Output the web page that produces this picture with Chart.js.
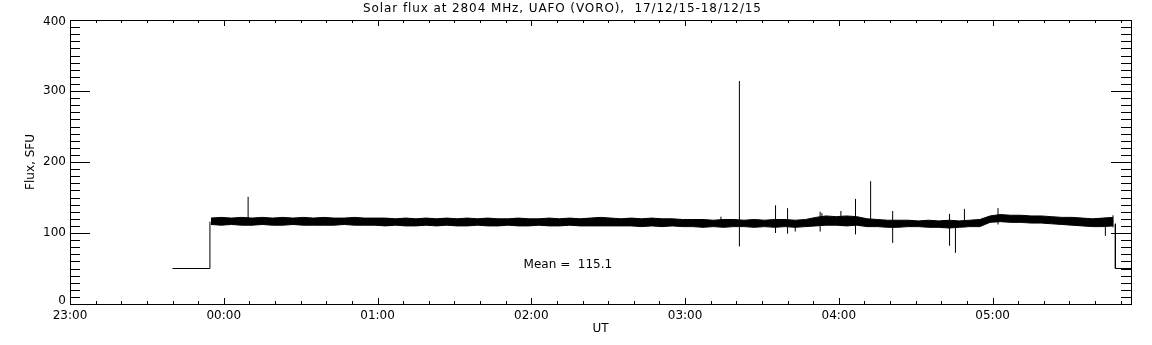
<!DOCTYPE html>
<html>
<head>
<meta charset="utf-8">
<script src="https://cdn.jsdelivr.net/npm/chart.js@4/dist/chart.umd.min.js"></script>
<style>
html, body { margin: 0; padding: 0; background: #fff; }
</style>
</head>
<body>
<canvas id="fluxChart" width="1152" height="345"></canvas>
<script>
// time axis is minutes after 23:00 UT
const titleText = 'Solar flux at 2804 MHz, UAFO (VORO),  17/12/15-18/12/15';
const hourTicks = [0, 60, 120, 180, 240, 300, 360];
const hourLabels = ['23:00', '00:00', '01:00', '02:00', '03:00', '04:00', '05:00'];
const fluxTicks = [0, 100, 200, 300, 400];
const fluxLabels = ['0', '100', '200', '300', '400'];
const meanLabel = 'Mean =  115.1';

// receiver off / calibration level before and after the record
const leadTime = [40, 54.6, 54.6];
const leadFlux = [50, 50, 116];
const tailTime = [407.9, 407.9, 414];
const tailFlux = [113, 50, 50];

// envelope of the noisy flux record
const bandTime = [55, 59, 63, 67, 71, 75, 79, 83, 87, 91, 95, 99, 103, 107, 111, 115, 119,
    123, 127, 131, 135, 139, 143, 147, 151, 155, 159, 163, 167, 171, 175, 179, 183, 187, 191,
    195, 199, 203, 207, 211, 215, 219, 223, 227, 231, 235, 239, 243, 247, 251, 255, 259, 263,
    267, 271, 275, 279, 283, 287, 291, 295, 299, 303, 307, 311, 315, 319, 323, 327, 331, 335,
    339, 343, 347, 351, 355, 359, 363, 367, 371, 375, 379, 383, 387, 391, 395, 399, 403, 407];
const bandHigh = [121, 122, 121, 122, 121, 122, 121, 122, 121, 122, 121, 122, 121, 121, 122, 121, 121,
    121, 120, 121, 120, 121, 120, 121, 120, 121, 120, 121, 120, 120, 121, 120, 120, 121, 120,
    121, 120, 121, 122, 121, 120, 121, 120, 121, 120, 120, 119, 119, 119, 118, 119, 119, 118,
    119, 118, 119, 119, 118, 119, 122, 124, 123, 124, 123, 120, 119, 118, 118, 118, 117, 118,
    117, 118, 117, 118, 119, 124, 126, 125, 125, 124, 124, 123, 122, 122, 121, 120, 121, 122];
const bandLow = [112, 111, 112, 111, 111, 112, 111, 111, 112, 111, 111, 111, 111, 112, 111, 111, 111,
    110, 111, 110, 110, 111, 110, 111, 110, 110, 111, 110, 110, 111, 110, 110, 111, 110, 110,
    111, 110, 110, 110, 110, 110, 110, 109, 110, 109, 110, 109, 109, 108, 109, 108, 109, 109,
    108, 109, 108, 109, 108, 109, 110, 111, 111, 110, 111, 109, 109, 108, 108, 109, 109, 108,
    108, 107, 108, 109, 109, 115, 116, 115, 115, 114, 114, 113, 112, 111, 110, 109, 109, 110];

// single-sample spikes: time, lowest and highest flux
const spikeTime = [69.5, 254, 261.2, 275.3, 280, 283, 292.7, 293.4, 300.8, 306.5, 312.4, 321,
    343.2, 345.5, 349, 362.1, 404, 407];
const spikeLow = [112, 110, 81, 100, 99, 102, 102, 110, 110, 98, 110, 86,
    82, 72, 108, 112, 96, 108];
const spikeHigh = [151, 123, 314, 139, 135, 116, 130, 128, 131, 148, 173, 131,
    127, 116, 134, 135, 118, 125];

const xy = (xs, ys) => xs.map((x, i) => ({ x: x, y: ys[i] }));
const spikePoints = spikeTime.flatMap((t, i) => [
    { x: t, y: spikeLow[i] }, { x: t, y: spikeHigh[i] }, { x: t, y: null }
]);

const fontFace = '"DejaVu Sans", sans-serif';

// IDL-like frame, inward ticks and labels
const idlFrame = {
    id: 'idlFrame',
    afterDraw(chart) {
        const ctx = chart.ctx;
        const a = chart.chartArea;
        const xs = chart.scales.x;
        const ys = chart.scales.y;
        ctx.save();
        ctx.strokeStyle = '#000';
        ctx.lineWidth = 1;
        ctx.strokeRect(Math.round(a.left) + 0.5, Math.round(a.top) + 0.5,
            Math.round(a.right - a.left), Math.round(a.bottom - a.top));

        ctx.beginPath();
        // x minor ticks every 10 minutes, hours longer
        for (let m = 0; m <= xs.max; m += 10) {
            const px = Math.round(xs.getPixelForValue(m)) + 0.5;
            const len = hourTicks.includes(m) ? 6 : 3;
            ctx.moveTo(px, a.bottom); ctx.lineTo(px, a.bottom - len);
            ctx.moveTo(px, a.top); ctx.lineTo(px, a.top + len);
        }
        // y minor ticks every 10 SFU, hundreds longer
        for (let v = 0; v <= ys.max; v += 10) {
            const py = Math.round(ys.getPixelForValue(v)) + 0.5;
            const len = fluxTicks.includes(v) ? 20 : 10;
            ctx.moveTo(a.left, py); ctx.lineTo(a.left + len, py);
            ctx.moveTo(a.right, py); ctx.lineTo(a.right - len, py);
        }
        ctx.stroke();

        ctx.fillStyle = '#000';
        ctx.font = '12px ' + fontFace;
        ctx.textAlign = 'right';
        ctx.textBaseline = 'middle';
        fluxTicks.forEach((v, i) => {
            const nudge = v === 400 ? 2 : (v === 0 ? -3 : 0);
            ctx.fillText(fluxLabels[i], a.left - 4, ys.getPixelForValue(v) + nudge);
        });

        ctx.textAlign = 'center';
        hourTicks.forEach((m, i) => ctx.fillText(hourLabels[i], xs.getPixelForValue(m), a.bottom + 12));
        ctx.fillText('UT', (a.left + a.right) / 2, a.bottom + 25);

        ctx.textAlign = 'left';
        ctx.fillText(meanLabel, xs.getPixelForValue(177), ys.getPixelForValue(55));

        ctx.letterSpacing = '0.9px';
        ctx.textAlign = 'center';
        ctx.fillText(titleText, (a.left + a.right) / 2 - 38, 9);
        ctx.letterSpacing = '0px';

        ctx.translate(31, (a.top + a.bottom) / 2);
        ctx.rotate(-Math.PI / 2);
        ctx.fillText('Flux, SFU', 0, 0);
        ctx.restore();
    }
};

const lineStyle = {
    borderColor: '#000',
    borderWidth: 1,
    pointRadius: 0,
    tension: 0,
    fill: false,
    spanGaps: false
};

new Chart(document.getElementById('fluxChart').getContext('2d'), {
    type: 'line',
    data: {
        datasets: [
            { ...lineStyle, label: 'lead', data: xy(leadTime, leadFlux) },
            { ...lineStyle, label: 'tail', data: xy(tailTime, tailFlux) },
            { ...lineStyle, label: 'high', data: xy(bandTime, bandHigh) },
            { ...lineStyle, label: 'low', data: xy(bandTime, bandLow), fill: '-1', backgroundColor: '#000' },
            { ...lineStyle, label: 'spikes', data: spikePoints }
        ]
    },
    options: {
        responsive: false,
        animation: false,
        devicePixelRatio: 1,
        layout: { padding: { left: 70, right: 21, top: 20, bottom: 41 } },
        scales: {
            x: { type: 'linear', min: 0, max: 414, display: false },
            y: { type: 'linear', min: 0, max: 400, display: false }
        },
        plugins: {
            legend: { display: false },
            tooltip: { enabled: false },
            title: { display: false }
        }
    },
    plugins: [idlFrame]
});
</script>
</body>
</html>
